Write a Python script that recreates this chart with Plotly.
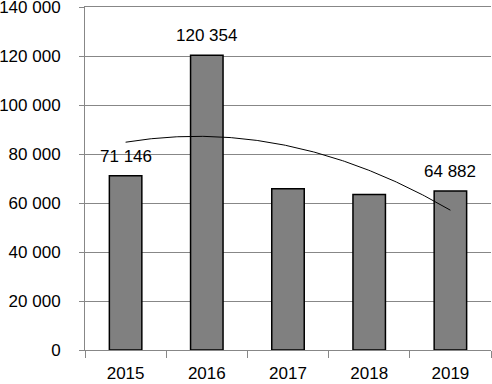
import numpy as np
import plotly.graph_objects as go

years = ["2015", "2016", "2017", "2018", "2019"]
values = [71146, 120354, 65800, 63500, 64882]
labeled = [True, True, False, False, True]
y_ticks = [0, 20000, 40000, 60000, 80000, 100000, 120000, 140000]

idx = np.arange(len(years))
coef = np.polyfit(idx, values, 2)
xs = np.linspace(0, len(years) - 1, 200)
ys = np.polyval(coef, xs)

FONT = "Liberation Sans"
GRID = "#878787"
FS = 17

fig = go.Figure()
fig.add_trace(go.Bar(
    x=idx, y=values, width=0.4,
    marker=dict(color="#808080", line=dict(color="#000000", width=1.5)),
    hoverinfo="skip",
))
fig.add_trace(go.Scatter(
    x=xs, y=ys, mode="lines",
    line=dict(color="#000000", width=1),
    hoverinfo="skip",
))

for i, (v, show) in enumerate(zip(values, labeled)):
    if show:
        fig.add_annotation(
            x=i, y=v, text=f"{v:,}".replace(",", " "),
            showarrow=False, yanchor="bottom", yshift=8,
            font=dict(family=FONT, size=FS, color="#000000"),
        )

fig.update_layout(
    width=492, height=384,
    margin=dict(l=85, r=1, t=7, b=34, autoexpand=False),
    paper_bgcolor="white", plot_bgcolor="white",
    showlegend=False,
    separators=". ",
    font=dict(family=FONT, size=FS, color="#000000"),
    bargap=0.6,
)
fig.update_xaxes(
    range=[-0.5, len(years) - 0.5], automargin=False,
    tickmode="array", tickvals=list(idx), ticktext=years,
    ticks="", showgrid=False,
    showline=True, linecolor=GRID, linewidth=1, mirror=True,
    minor=dict(tick0=-0.5, dtick=1, ticks="outside", ticklen=7,
               tickcolor=GRID, showgrid=False),
    ticklabelstandoff=8,
    tickfont=dict(family=FONT, size=FS),
)
fig.update_yaxes(
    range=[0, 140000], tickmode="array", tickvals=y_ticks, automargin=False,
    tickformat=",d",
    showgrid=True, gridcolor=GRID, gridwidth=1,
    showline=True, linecolor=GRID, linewidth=1,
    ticks="outside", ticklen=5, tickcolor=GRID,
    ticklabelstandoff=15, ticklabeloverflow="allow",
    zeroline=False,
    tickfont=dict(family=FONT, size=FS),
)

fig.write_html(
    "out.html",
    config={"displayModeBar": False},
    post_script="document.body.style.margin='0';document.body.style.overflow='hidden';",
)
